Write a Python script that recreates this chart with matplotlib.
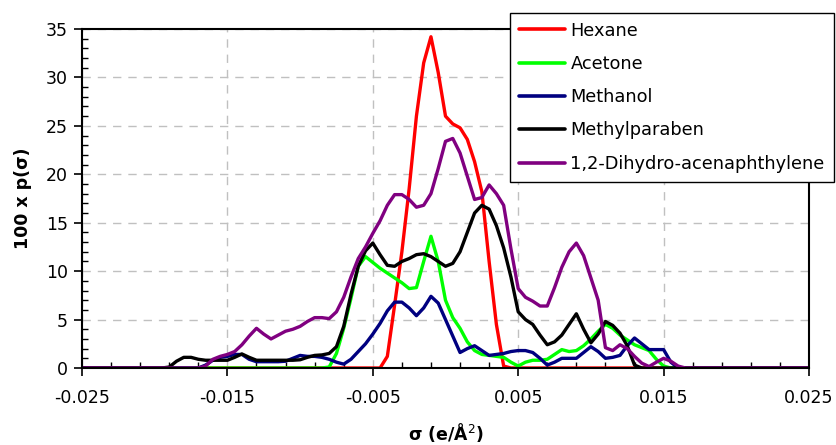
import numpy as np
import matplotlib
matplotlib.use("Agg")
import matplotlib.pyplot as plt
from matplotlib.ticker import MultipleLocator, FixedLocator

# sigma grid (e/Å²), step 0.0005 from -0.025 to 0.025
sigma = np.round(np.arange(-0.025, 0.02501, 0.0005), 4)

hexane = [
    0, 0, 0, 0, 0, 0, 0, 0, 0, 0,
    0, 0, 0, 0, 0, 0, 0, 0, 0, 0,
    0, 0, 0, 0, 0, 0, 0, 0, 0, 0,
    0, 0, 0, 0, 0, 0, 0, 0, 0, 0,
    0, 0, 1.2, 6.5, 12, 18.5, 26, 31.5, 34.2, 30.5,
    26.0, 25.2, 24.8, 23.6, 21.3, 18.2, 11, 4.5, 0.2, 0,
    0, 0, 0, 0, 0, 0, 0, 0, 0, 0,
    0, 0, 0, 0, 0, 0, 0, 0, 0, 0,
    0, 0, 0, 0, 0, 0, 0, 0, 0, 0,
    0, 0, 0, 0, 0, 0, 0, 0, 0, 0,
    0,
]

acetone = [
    0, 0, 0, 0, 0, 0, 0, 0, 0, 0,
    0, 0, 0, 0, 0, 0, 0, 0, 0, 0,
    0, 0, 0, 0, 0, 0, 0, 0, 0, 0,
    0, 0, 0, 0, 0.1, 1.5, 4.1, 7.2, 10.5, 11.5,
    10.9, 10.3, 9.8, 9.3, 8.8, 8.2, 8.3, 11.0, 13.6, 11.0,
    7.0, 5.2, 4.1, 2.7, 1.8, 1.4, 1.3, 1.2, 1.1, 0.6,
    0.2, 0.6, 0.8, 0.8, 0.9, 1.4, 1.9, 1.7, 1.8, 2.3,
    3.0, 3.8, 4.5, 4.1, 3.4, 2.9, 2.4, 2.1, 1.8, 0.9,
    0.2, 0, 0, 0, 0, 0, 0, 0, 0, 0,
    0, 0, 0, 0, 0, 0, 0, 0, 0, 0,
    0,
]

methanol = [
    0, 0, 0, 0, 0, 0, 0, 0, 0, 0,
    0, 0, 0, 0, 0, 0, 0, 0.3, 0.8, 1.1,
    1.2, 1.4, 1.4, 0.9, 0.65, 0.65, 0.65, 0.65, 0.7, 1.0,
    1.3, 1.2, 1.2, 1.1, 0.9, 0.6, 0.4, 0.9, 1.7, 2.5,
    3.5, 4.6, 5.9, 6.8, 6.8, 6.2, 5.4, 6.2, 7.4, 6.7,
    5.0, 3.3, 1.6, 2.0, 2.3, 1.8, 1.3, 1.4, 1.5, 1.7,
    1.8, 1.8, 1.6, 1.0, 0.3, 0.6, 1.0, 1.0, 1.0, 1.6,
    2.2, 1.7, 1.0, 1.1, 1.3, 2.3, 3.1, 2.5, 1.9, 1.9,
    1.9, 0.6, 0, 0, 0, 0, 0, 0, 0, 0,
    0, 0, 0, 0, 0, 0, 0, 0, 0, 0,
    0,
]

methylparaben = [
    0, 0, 0, 0, 0, 0, 0, 0, 0, 0,
    0, 0, 0.1, 0.7, 1.1, 1.1, 0.9, 0.8, 0.8, 0.8,
    0.8, 1.1, 1.45, 1.1, 0.8, 0.8, 0.8, 0.8, 0.8, 0.8,
    0.85, 1.1, 1.3, 1.35, 1.5, 2.2, 4.3, 7.6, 10.5, 12.1,
    12.9, 11.7, 10.6, 10.5, 11.0, 11.3, 11.7, 11.8, 11.5, 11.0,
    10.5, 10.8, 12.0, 14.0, 16.0, 16.8, 16.4, 14.7, 12.4, 9.4,
    5.8, 5.0, 4.5, 3.4, 2.4, 2.7, 3.4, 4.5, 5.6, 4.0,
    2.6, 3.5, 4.8, 4.4, 3.6, 2.3, 0.3, 0, 0, 0,
    0, 0, 0, 0, 0, 0, 0, 0, 0, 0,
    0, 0, 0, 0, 0, 0, 0, 0, 0, 0,
    0,
]

dihydroacenaphthylene = [
    0, 0, 0, 0, 0, 0, 0, 0, 0, 0,
    0, 0, 0, 0, 0, 0, 0, 0.2, 0.9, 1.2,
    1.4, 1.7, 2.4, 3.3, 4.1, 3.5, 3.0, 3.4, 3.8, 4.0,
    4.3, 4.8, 5.2, 5.2, 5.1, 5.8, 7.3, 9.4, 11.3, 12.5,
    13.9, 15.2, 16.8, 17.9, 17.9, 17.4, 16.6, 16.8, 18.0, 20.6,
    23.4, 23.7, 22.2, 19.8, 17.4, 17.6, 18.9, 18.0, 16.8, 12.3,
    8.2, 7.3, 6.9, 6.4, 6.4, 8.3, 10.4, 12.0, 12.9, 11.6,
    9.3, 7.0, 2.1, 1.8, 2.4, 2.0, 1.2, 0.5, 0.15, 0.6,
    1.0, 0.7, 0.2, 0, 0, 0, 0, 0, 0, 0,
    0, 0, 0, 0, 0, 0, 0, 0, 0, 0,
    0,
]

series_names = ["Hexane", "Acetone", "Methanol", "Methylparaben",
                "1,2-Dihydro-acenaphthylene"]
series_values = [hexane, acetone, methanol, methylparaben, dihydroacenaphthylene]
series_colors = ["#ff0000", "#00ff00", "#000080", "#000000", "#800080"]

x_major = [-0.025, -0.015, -0.005, 0.005, 0.015, 0.025]
x_labels = ["-0.025", "-0.015", "-0.005", "0.005", "0.015", "0.025"]

plt.rcParams['font.family'] = ['DejaVu Sans']

fig = plt.figure(figsize=(8.37, 4.45), dpi=100)
ax = fig.add_axes([82/837, 1 - 368/445, (809-82)/837, (368-29)/445])

for name, vals, col in zip(series_names, series_values, series_colors):
    ax.plot(sigma, vals, color=col, lw=2.4, label=name,
            solid_joinstyle='round', solid_capstyle='round')

ax.set_xlim(-0.025, 0.025)
ax.set_ylim(0, 35)
ax.xaxis.set_major_locator(FixedLocator(x_major))
ax.set_xticklabels(x_labels)
ax.xaxis.set_minor_locator(FixedLocator(np.round(np.arange(-0.025, 0.02501, 0.002), 4)))
ax.yaxis.set_major_locator(MultipleLocator(5))
ax.yaxis.set_minor_locator(MultipleLocator(1))

ax.tick_params(which='major', direction='out', length=6, width=1.2,
               labelsize=12.5, colors='black')
ax.tick_params(axis='x', which='major', pad=9)
ax.tick_params(axis='y', which='major', pad=4)
ax.tick_params(which='minor', direction='in', length=4, width=1)

ax.grid(True, which='major', color='#c0c0c0', linestyle=(0, (6, 5)), linewidth=1)
ax.set_axisbelow(True)
for sp in ax.spines.values():
    sp.set_color('black')
    sp.set_linewidth(1.5)

ax.set_xlabel("σ (e/Å$^2$)", fontsize=12.5, fontweight='bold', labelpad=10)
ax.set_ylabel("100 x p(σ)", fontsize=12.5, fontweight='bold', labelpad=10)

leg = fig.legend(loc='upper left', bbox_to_anchor=(510/837, 1 - 12.7/445),
                 borderaxespad=0, fontsize=12.8, frameon=True, fancybox=False,
                 framealpha=1, edgecolor='black', handlelength=2.6,
                 handletextpad=0.3, labelspacing=0.86, borderpad=0.5)
leg.get_frame().set_linewidth(1.0)
for line in leg.get_lines():
    line.set_linewidth(2.6)

fig.savefig("out.png", dpi=100)
